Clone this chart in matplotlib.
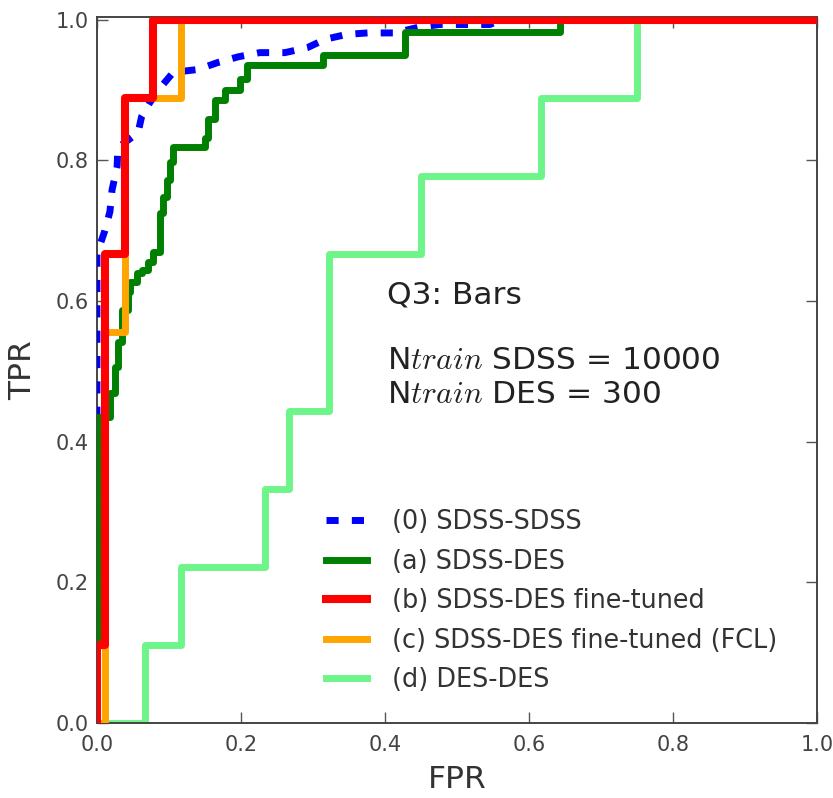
import matplotlib
matplotlib.use("Agg")
import matplotlib.pyplot as plt
from matplotlib import font_manager

# (0) SDSS-SDSS
fpr0 = [0.0, 0.0, 0.0, 0.011, 0.018, 0.021, 0.028, 0.029, 0.057, 0.062, 0.074, 0.092, 0.106,
        0.14, 0.168, 0.196, 0.226, 0.261, 0.292, 0.317, 0.347, 0.376, 0.414, 0.446, 0.476, 0.508, 0.546, 0.56, 1.0]
tpr0 = [0.0, 0.40, 0.667, 0.70, 0.727, 0.758, 0.791, 0.818, 0.839, 0.862, 0.883, 0.908, 0.925,
        0.929, 0.939, 0.947, 0.953, 0.953, 0.96, 0.972, 0.979, 0.981, 0.981, 0.989, 0.993, 0.993, 0.993, 1.0, 1.0]

# (a) SDSS-DES  (drawn as up-then-right staircase)
fpra = [0.0, 0.0, 0.018, 0.025, 0.029, 0.035, 0.043, 0.046, 0.056, 0.063, 0.071, 0.078, 0.088,
        0.088, 0.092, 0.097, 0.101, 0.106, 0.108, 0.150, 0.154, 0.164, 0.178, 0.185, 0.199,
        0.208, 0.215, 0.314, 0.314, 0.428, 0.428, 0.643, 0.643, 1.0]
tpra = [0.0, 0.421, 0.435, 0.469, 0.506, 0.541, 0.587, 0.612, 0.627, 0.640, 0.644, 0.656, 0.669,
        0.697, 0.725, 0.748, 0.772, 0.797, 0.819, 0.819, 0.832, 0.858, 0.886, 0.900, 0.900,
        0.915, 0.936, 0.936, 0.950, 0.950, 0.983, 0.983, 1.0, 1.0]

# (b) SDSS-DES fine-tuned
fprb = [0.0, 0.0, 0.011, 0.011, 0.039, 0.039, 0.078, 0.078, 1.0]
tprb = [0.0, 0.111, 0.111, 0.667, 0.667, 0.889, 0.889, 1.0, 1.0]

# (c) SDSS-DES fine-tuned (FCL)
fprc = [0.0, 0.011, 0.011, 0.039, 0.039, 0.117, 0.117, 1.0]
tprc = [0.0, 0.0, 0.556, 0.556, 0.889, 0.889, 1.0, 1.0]

# (d) DES-DES
fprd = [0.0, 0.067, 0.067, 0.117, 0.117, 0.233, 0.233, 0.267, 0.267, 0.322, 0.322,
        0.45, 0.45, 0.617, 0.617, 0.75, 0.75, 1.0]
tprd = [0.0, 0.0, 0.111, 0.111, 0.222, 0.222, 0.333, 0.333, 0.444, 0.444, 0.667,
        0.667, 0.778, 0.778, 0.889, 0.889, 1.0, 1.0]

labels = ["(0) SDSS-SDSS", "(a) SDSS-DES", "(b) SDSS-DES fine-tuned",
          "(c) SDSS-DES fine-tuned (FCL)", "(d) DES-DES"]
ticks = [0.0, 0.2, 0.4, 0.6, 0.8, 1.0]
tick_labels = ["0.0", "0.2", "0.4", "0.6", "0.8", "1.0"]

plt.rcParams['mathtext.fontset'] = 'cm'

names = {f.name for f in font_manager.fontManager.ttflist}
label_family = 'Liberation Sans Narrow' if 'Liberation Sans Narrow' in names else 'DejaVu Sans'

fig = plt.figure(figsize=(8.33, 7.98), dpi=100)
ax = fig.add_axes([0.1164, 0.094, 0.8644, 0.885])

ax.plot(fpr0, tpr0, color='blue', lw=5, dashes=(1.75, 1.9), label=labels[0], zorder=3)
ax.plot(fpra, tpra, color='green', lw=5, drawstyle='steps-pre', label=labels[1], zorder=3.2)
ax.plot(fprb, tprb, color='red', lw=5.8, label=labels[2], zorder=4)
ax.plot(fprc, tprc, color='orange', lw=5, label=labels[3], zorder=3.5)
ax.plot(fprd, tprd, color='#6ef58a', lw=5, label=labels[4], zorder=2)

ax.set_xlim(0, 1)
ax.set_ylim(0, 1.004)
ax.set_xticks(ticks)
ax.set_yticks(ticks)
ax.set_xticklabels(tick_labels)
ax.set_yticklabels(tick_labels)
ax.tick_params(direction='in', top=True, right=True, length=8, width=1, color='#555',
               labelsize=15, labelcolor='#444')
ax.tick_params(axis='x', pad=9)
ax.tick_params(axis='y', pad=6)
for s in ax.spines.values():
    s.set_color('#444')
    s.set_linewidth(1.4)

ax.set_xlabel("FPR", fontsize=22.5, color='#333', labelpad=7, family=label_family)
ax.set_ylabel("TPR", fontsize=22.5, color='#333', labelpad=13, family=label_family)

ax.text(0.403, 0.609, "Q3: Bars", fontsize=22.5, color='#222', va='center', ha='left')
ax.text(0.403, 0.491, "N$train$ SDSS = 10000\nN$train$ DES = 300",
        fontsize=22.5, color='#222', va='center', ha='left', linespacing=1.25)

ax.legend(loc='upper left', bbox_to_anchor=(0.318, 0.303), frameon=False, fontsize=18.4,
          handlelength=1.6, handletextpad=1.0, labelspacing=0.53,
          borderpad=0, borderaxespad=0, labelcolor='#333')

fig.savefig("out.png", dpi=100)
